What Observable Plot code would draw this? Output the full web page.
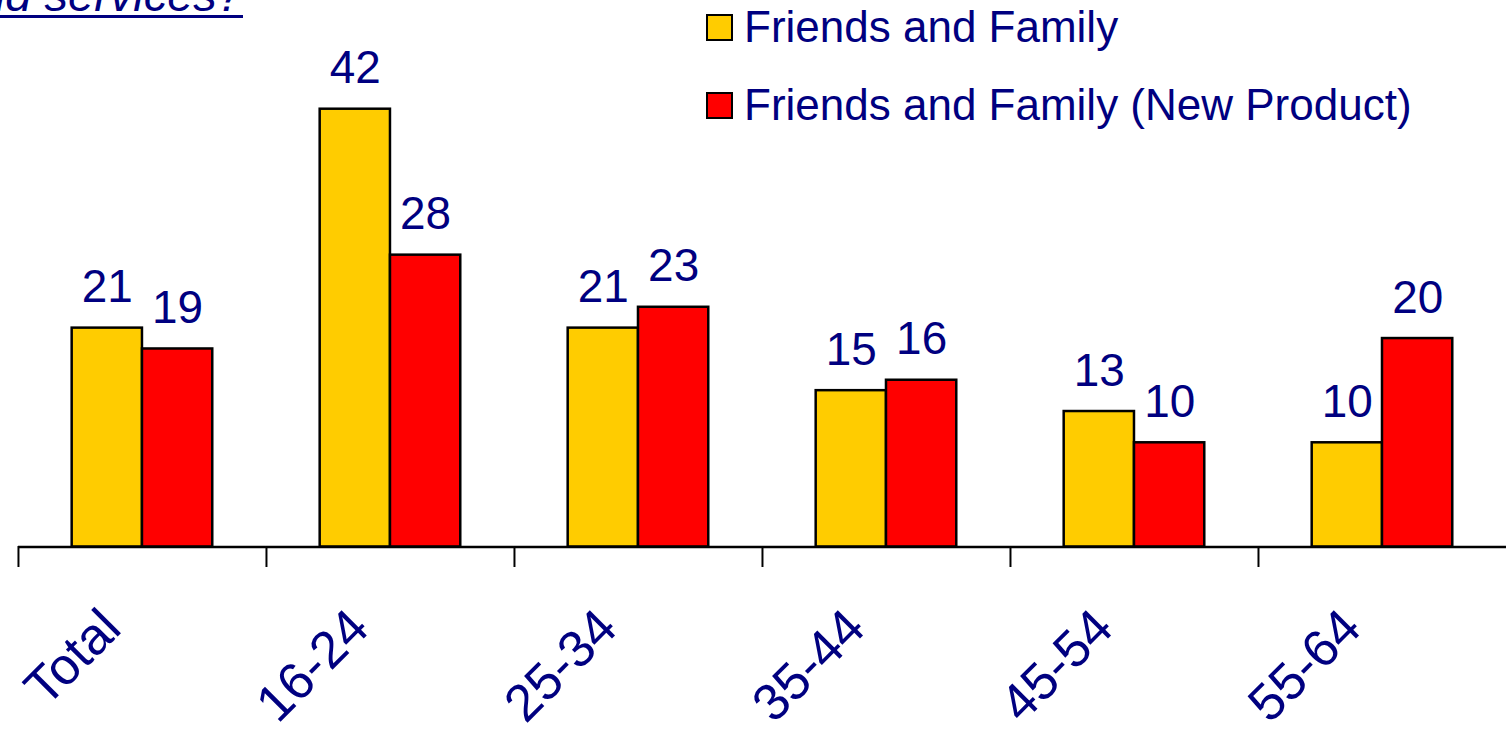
<!DOCTYPE html>
<html>
<head>
<meta charset="utf-8">
<script src="https://cdn.jsdelivr.net/npm/d3@7"></script>
<script src="https://cdn.jsdelivr.net/npm/@observablehq/plot@0.6"></script>
<style>
  html, body { margin: 0; padding: 0; background: #fff; overflow: hidden; }
  body { position: relative; width: 1506px; height: 732px; font-family: "Liberation Sans", Arial, sans-serif; }
  #chart { position: absolute; left: 0; top: 0; }
  #title {
    position: absolute; right: 1263px; top: -29px;
    font-size: 47px; line-height: 47px; font-style: italic; white-space: nowrap;
    color: #000080; text-decoration: underline; text-decoration-thickness: 3px; text-underline-offset: 4px;
  }
  #legend { position: absolute; left: 706px; top: -12px; color: #000080; font-size: 44px; }
  #legend .row { display: flex; align-items: center; height: 78px; line-height: 78px; white-space: nowrap; }
  #legend .sw { width: 27px; height: 27px; box-sizing: border-box; border: 2.5px solid #000; margin-right: 11px; }
</style>
</head>
<body>
<div id="title"></div>
<div id="legend"></div>
<div id="chart"></div>
<script>
// Age groups along the axis
const categories = ["Total", "16-24", "25-34", "35-44", "45-54", "55-64"];
// Series names and fills
const seriesNames = ["Friends and Family", "Friends and Family (New Product)"];
const seriesColors = ["#FFCC00", "#FF0000"];
// Percentages per age group
const friendsFamily = [21, 42, 21, 15, 13, 10];
const friendsFamilyNew = [19, 28, 23, 16, 10, 20];
const titleText = "products and services?";

const navy = "#000080";

const rows = categories.flatMap((c, i) => [
  {group: c, series: seriesNames[0], value: friendsFamily[i]},
  {group: c, series: seriesNames[1], value: friendsFamilyNew[i]}
]);

const chart = Plot.plot({
  width: 1510,
  height: 732,
  marginLeft: 18,
  marginRight: 0,
  marginTop: 109,
  marginBottom: 184,
  style: {fontFamily: "'Liberation Sans', Arial, sans-serif", background: "transparent", overflow: "visible"},
  fx: {domain: categories, padding: 0, axis: null, round: false},
  x: {domain: seriesNames, paddingInner: 0, paddingOuter: 0.764, axis: null, round: false},
  y: {domain: [0, 42], axis: null},
  color: {domain: seriesNames, range: seriesColors},
  marks: [
    Plot.barY(rows, {fx: "group", x: "series", y: "value", fill: "series", stroke: "#000", strokeWidth: 2.5}),
    Plot.text(rows, {fx: "group", x: "series", y: "value", text: d => String(d.value),
      lineAnchor: "bottom", dy: -26, fontSize: 46, fill: navy}),
    Plot.ruleY([0], {stroke: "#000", strokeWidth: 2.5}),
    // tick marks sit between categories, at the left edge of each group
    Plot.frame({anchor: "left", stroke: "#000", strokeWidth: 2, insetTop: 439, insetBottom: -19}),
    Plot.text(categories, {fx: d => d, text: d => d, frameAnchor: "bottom", rotate: -45,
      textAnchor: "end", lineAnchor: "bottom", dx: -19, dy: 84, fontSize: 52, fill: navy})
  ]
});
document.getElementById("chart").appendChild(chart);

document.getElementById("title").textContent = titleText;

const legend = document.getElementById("legend");
seriesNames.forEach((name, i) => {
  const row = document.createElement("div");
  row.className = "row";
  const sw = document.createElement("span");
  sw.className = "sw";
  sw.style.background = seriesColors[i];
  const label = document.createElement("span");
  label.textContent = name;
  row.append(sw, label);
  legend.appendChild(row);
});
</script>
</body>
</html>
